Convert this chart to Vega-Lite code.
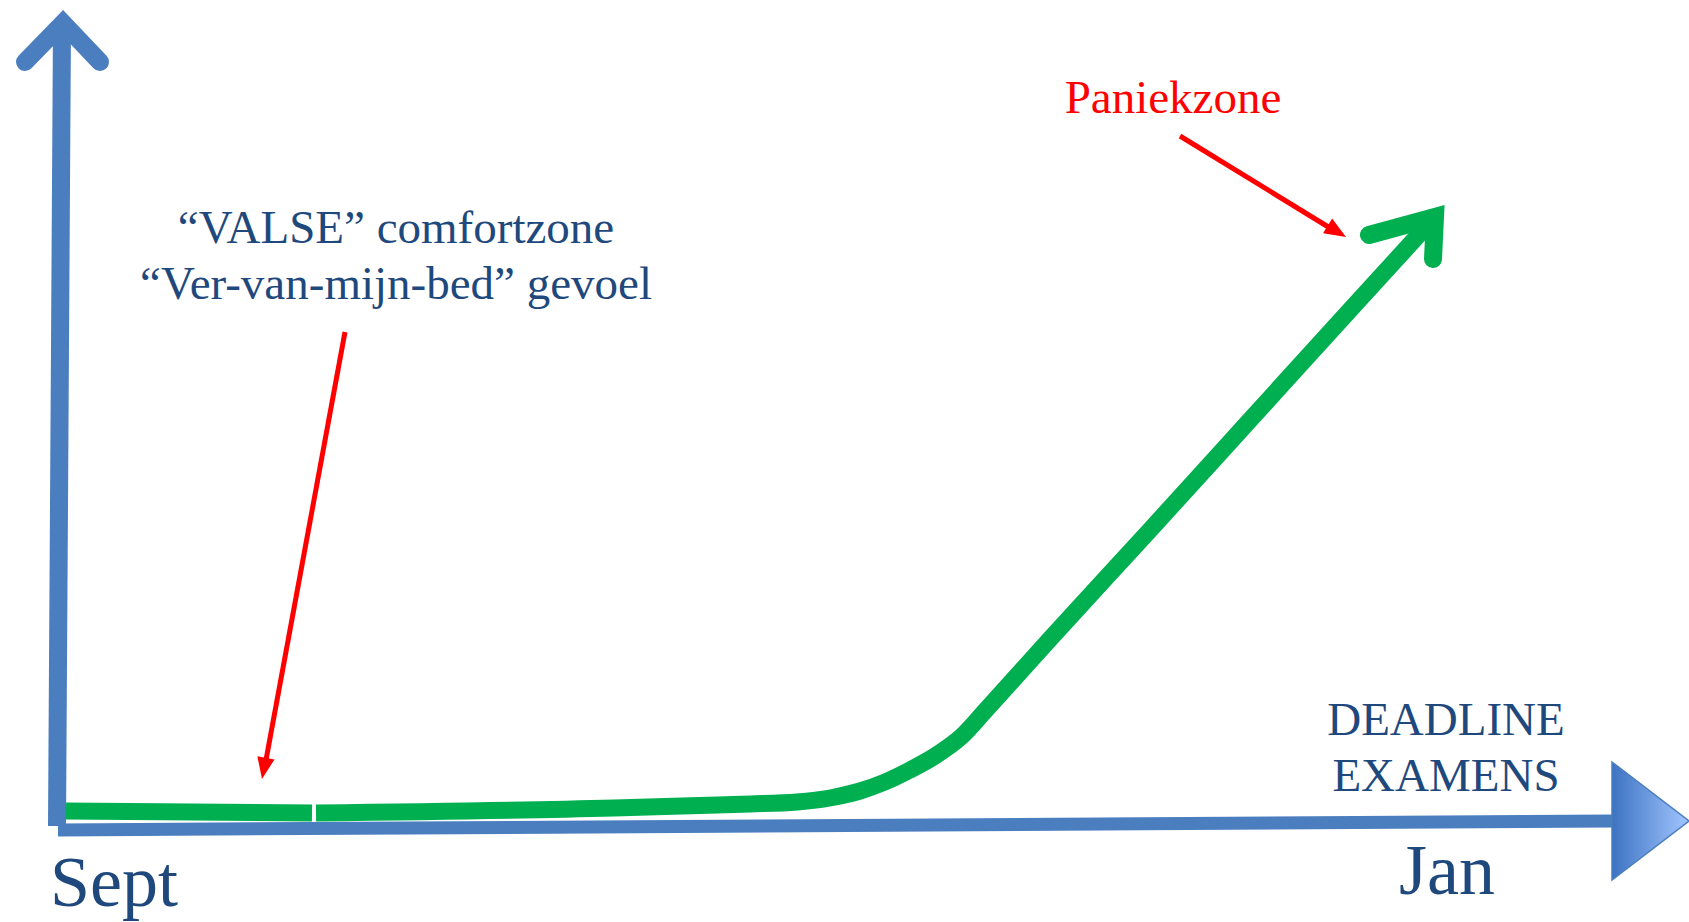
{
  "$schema": "https://vega.github.io/schema/vega-lite/v6.json",
  "width": 1689,
  "height": 922,
  "autosize": {"type": "none"},
  "padding": 0,
  "background": "white",
  "config": {"view": {"stroke": null}},
  "encoding": {
    "x": {"field": "x", "type": "quantitative", "scale": {"domain": [0, 1689], "nice": false, "zero": false}, "axis": null},
    "y": {"field": "y", "type": "quantitative", "scale": {"domain": [0, 922], "nice": false, "zero": false}, "axis": null}
  },
  "layer": [
    {
      "data": {"values": [{"x": 57, "y": 96}, {"x": 62, "y": 898}]},
      "mark": {"type": "line", "color": "#4A7EBF", "strokeWidth": 18, "strokeCap": "butt"},
      "encoding": {}
    },
    {
      "data": {"values": [{"i": 0, "x": 25, "y": 860}, {"i": 1, "x": 63, "y": 899}, {"i": 2, "x": 100, "y": 860}]},
      "mark": {"type": "line", "color": "#4A7EBF", "strokeWidth": 18, "strokeCap": "round", "strokeJoin": "miter", "strokeMiterLimit": 10},
      "encoding": {"order": {"field": "i", "type": "quantitative"}}
    },
    {
      "data": {"values": [{"x": 58, "y": 92}, {"x": 1614, "y": 101}]},
      "mark": {"type": "line", "color": "#4A7EBF", "strokeWidth": 13, "strokeCap": "butt"},
      "encoding": {}
    },
    {
      "data": {"values": [{"x": 1612, "y": 160, "y2": 42}, {"x": 1689, "y": 101, "y2": 101}]},
      "mark": {
        "type": "area",
        "fill": {"gradient": "linear", "x1": 0, "y1": 0, "x2": 1, "y2": 0, "stops": [{"offset": 0, "color": "#3C73C2"}, {"offset": 1, "color": "#A3C6FF"}]},
        "stroke": "#4A7EBF",
        "strokeWidth": 1.5,
        "opacity": 1
      },
      "encoding": {"y2": {"field": "y2"}}
    },
    {
      "data": {"values": [
        {"seg": "a", "x": 66, "y": 111},
        {"seg": "a", "x": 312, "y": 109},
        {"seg": "b", "x": 316, "y": 109},
        {"seg": "b", "x": 614, "y": 114},
        {"seg": "b", "x": 700, "y": 116.5},
        {"seg": "b", "x": 750, "y": 118},
        {"seg": "b", "x": 797, "y": 120},
        {"seg": "b", "x": 830, "y": 124},
        {"seg": "b", "x": 860, "y": 131},
        {"seg": "b", "x": 885, "y": 140},
        {"seg": "b", "x": 910, "y": 152},
        {"seg": "b", "x": 935, "y": 166},
        {"seg": "b", "x": 962, "y": 186},
        {"seg": "b", "x": 985, "y": 211},
        {"seg": "b", "x": 1050, "y": 283},
        {"seg": "b", "x": 1150, "y": 392},
        {"seg": "b", "x": 1250, "y": 502},
        {"seg": "b", "x": 1350, "y": 612},
        {"seg": "b", "x": 1435, "y": 705}
      ]},
      "mark": {"type": "line", "color": "#00B050", "strokeWidth": 17, "strokeCap": "butt", "strokeJoin": "round", "interpolate": "monotone"},
      "encoding": {"detail": {"field": "seg"}}
    },
    {
      "data": {"values": [{"i": 0, "x": 1369, "y": 687}, {"i": 1, "x": 1435, "y": 705}, {"i": 2, "x": 1433, "y": 663}]},
      "mark": {"type": "line", "color": "#00B050", "strokeWidth": 18, "strokeCap": "round", "strokeJoin": "miter", "strokeMiterLimit": 10},
      "encoding": {"order": {"field": "i", "type": "quantitative"}}
    },
    {
      "data": {"values": [
        {"id": "a", "x": 345, "y": 590},
        {"id": "a", "x": 266, "y": 162},
        {"id": "b", "x": 1180, "y": 786},
        {"id": "b", "x": 1330, "y": 694}
      ]},
      "mark": {"type": "line", "color": "#FF0000", "strokeWidth": 5, "strokeCap": "butt"},
      "encoding": {"detail": {"field": "id"}}
    },
    {
      "data": {"values": [{"x": 262, "y": 143}]},
      "mark": {"type": "point", "shape": "M0,0L0.85,2.1L-0.85,2.1Z", "size": 420, "filled": true, "color": "#FF0000", "opacity": 1, "strokeWidth": 0, "angle": 190.5},
      "encoding": {}
    },
    {
      "data": {"values": [{"x": 1346, "y": 685}]},
      "mark": {"type": "point", "shape": "M0,0L0.85,2.1L-0.85,2.1Z", "size": 420, "filled": true, "color": "#FF0000", "opacity": 1, "strokeWidth": 0, "angle": 121.3},
      "encoding": {}
    },
    {
      "data": {"values": [
        {"x": 396, "y": 679, "t": "“VALSE” comfortzone"},
        {"x": 396, "y": 623, "t": "“Ver-van-mijn-bed” gevoel"},
        {"x": 1446, "y": 187, "t": "DEADLINE"},
        {"x": 1446, "y": 131, "t": "EXAMENS"}
      ]},
      "mark": {"type": "text", "font": "Liberation Serif", "fontSize": 47, "color": "#1F497D", "align": "center", "baseline": "alphabetic"},
      "encoding": {"text": {"field": "t"}}
    },
    {
      "data": {"values": [{"x": 1173, "y": 809, "t": "Paniekzone"}]},
      "mark": {"type": "text", "font": "Liberation Serif", "fontSize": 47, "color": "#FF0000", "align": "center", "baseline": "alphabetic"},
      "encoding": {"text": {"field": "t"}}
    },
    {
      "data": {"values": [{"x": 114, "y": 16, "t": "Sept"}, {"x": 1447, "y": 28, "t": "Jan"}]},
      "mark": {"type": "text", "font": "Liberation Serif", "fontSize": 72, "color": "#1F497D", "align": "center", "baseline": "alphabetic"},
      "encoding": {"text": {"field": "t"}}
    }
  ]
}
